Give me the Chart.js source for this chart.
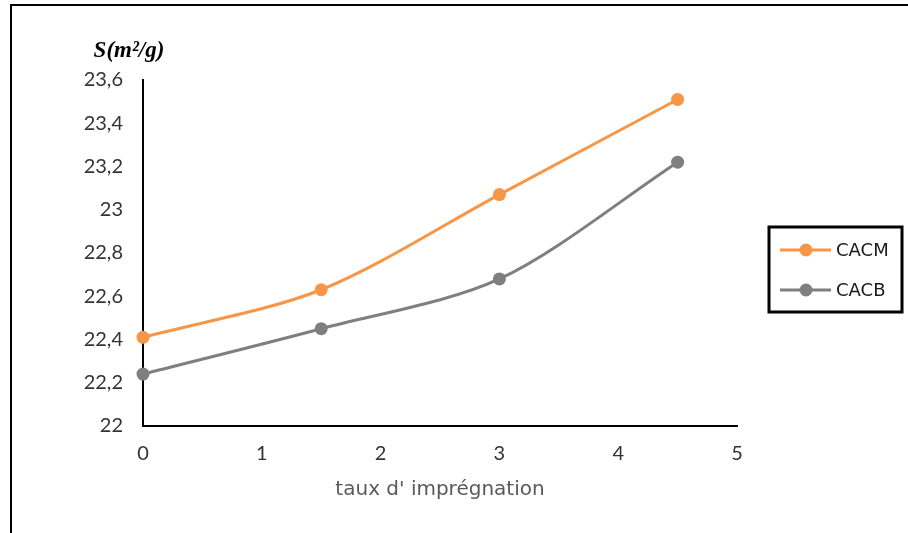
<!DOCTYPE html>
<html>
<head>
<meta charset="utf-8">
<script src="https://cdn.jsdelivr.net/npm/chart.js@4/dist/chart.umd.min.js"></script>
<style>
  html, body { margin: 0; padding: 0; background: #fff; }
  #wrap { position: relative; width: 908px; height: 533px; }
</style>
</head>
<body>
<div id="wrap"><canvas id="c" width="908" height="533"></canvas></div>
<script>
// Impregnation ratio (x) and specific surface S (m²/g) per activated carbon
const impregnation = [0, 1.5, 3, 4.5];
const cacm = [22.41, 22.63, 23.07, 23.51];
const cacb = [22.24, 22.45, 22.68, 23.22];
const seriesNames = ['CACM', 'CACB'];
const seriesColors = ['#F79646', '#7F7F7F'];
const yTickLabels = ['22', '22,2', '22,4', '22,6', '22,8', '23', '23,2', '23,4', '23,6'];
const xTickLabels = ['0', '1', '2', '3', '4', '5'];
const yTitle = 'S(m²/g)';
const xTitle = "taux d' impr\u00e9gnation";

const sans = '"DejaVu Sans", "Open Sans", sans-serif';
const tickFont = { family: 'Lato, "Open Sans", sans-serif', size: 20 };

function toPoints(xs, ys) {
  return xs.map((x, i) => ({ x: x, y: ys[i] }));
}

// Outer frame, y-axis heading and boxed legend
const decorations = {
  id: 'decorations',
  beforeDraw(chart) {
    const ctx = chart.ctx;
    ctx.save();
    ctx.fillStyle = '#fff';
    ctx.fillRect(0, 0, chart.width, chart.height);
    ctx.fillStyle = '#000';
    ctx.fillRect(10, 4, 2, chart.height - 4);
    ctx.fillRect(10, 4, chart.width - 10, 2);
    ctx.restore();
  },
  afterDraw(chart) {
    const ctx = chart.ctx;
    const area = chart.chartArea;
    ctx.save();
    // y-axis heading
    ctx.font = 'italic bold 23px "Liberation Serif", "DejaVu Serif", serif';
    ctx.fillStyle = '#000';
    ctx.textAlign = 'center';
    ctx.textBaseline = 'middle';
    ctx.fillText(yTitle, area.left - 14, 51);

    // legend
    const bx = 769, by = 227, bw = 133, bh = 85;
    ctx.lineWidth = 3;
    ctx.strokeStyle = '#000';
    ctx.strokeRect(bx, by, bw, bh);
    ctx.font = '18px ' + sans;
    ctx.textAlign = 'left';
    const rows = [250, 290];
    chart.data.datasets.forEach((ds, i) => {
      const y = rows[i];
      ctx.strokeStyle = ds.borderColor;
      ctx.lineWidth = 3;
      ctx.beginPath();
      ctx.moveTo(780, y);
      ctx.lineTo(831, y);
      ctx.stroke();
      ctx.fillStyle = ds.backgroundColor;
      ctx.beginPath();
      ctx.arc(806, y, 6.5, 0, Math.PI * 2);
      ctx.fill();
      ctx.fillStyle = '#1a1a1a';
      ctx.fillText(ds.label, 836, y + 1);
    });
    ctx.restore();
  }
};

new Chart(document.getElementById('c'), {
  type: 'line',
  data: {
    datasets: [cacm, cacb].map((vals, i) => ({
      label: seriesNames[i],
      data: toPoints(impregnation, vals),
      borderColor: seriesColors[i],
      backgroundColor: seriesColors[i],
      pointBackgroundColor: seriesColors[i],
      pointBorderWidth: 0,
      pointRadius: 6.5,
      borderWidth: 3,
      tension: 0.3,
      clip: false
    }))
  },
  options: {
    responsive: false,
    animation: false,
    layout: { padding: { left: 0, top: 80, right: 171, bottom: 27 } },
    plugins: {
      legend: { display: false },
      tooltip: { enabled: false }
    },
    scales: {
      x: {
        type: 'linear',
        min: 0,
        max: 5,
        grid: { display: false, drawTicks: false },
        border: { display: true, color: '#000', width: 2 },
        ticks: {
          stepSize: 1,
          padding: 16,
          color: '#333333',
          font: tickFont,
          callback: (v, i) => xTickLabels[i]
        },
        title: {
          display: true,
          text: xTitle,
          color: '#595959',
          font: { family: sans, size: 20 },
          padding: { top: 4, bottom: 4 }
        },
        afterFit(scale) { scale.height = 80; }
      },
      y: {
        min: 22,
        max: 23.6,
        grid: { display: false, drawTicks: false },
        border: { display: true, color: '#000', width: 2 },
        ticks: {
          stepSize: 0.2,
          padding: 20,
          color: '#333333',
          font: tickFont,
          callback: (v, i) => yTickLabels[i]
        },
        afterFit(scale) { scale.width = 143; }
      }
    }
  },
  plugins: [decorations]
});
</script>
</body>
</html>
